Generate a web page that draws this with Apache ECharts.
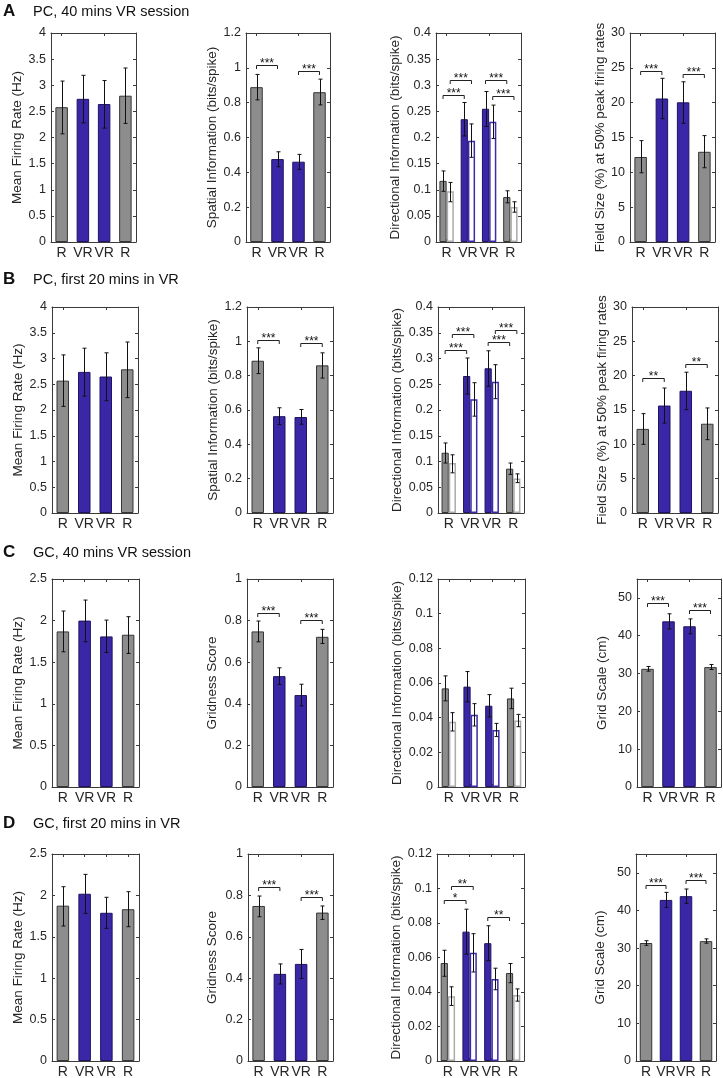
<!DOCTYPE html>
<html><head><meta charset="utf-8">
<script src="https://cdn.jsdelivr.net/npm/echarts@6/dist/echarts.min.js"></script>
<style>html,body{margin:0;padding:0;background:#fff}#c{width:723px;height:1078px}</style>
</head><body><div id="c"></div><script>
// ---------- DATA ----------
const categories = ['R', 'VR', 'VR', 'R'];
const catIsVR = [false, true, true, false];

const rowTitles = ['PC, 40 mins VR session', 'PC, first 20 mins in VR', 'GC, 40 mins VR session', 'GC, first 20 mins in VR'];
const rowLetters = ['A', 'B', 'C', 'D'];

// Row A: PC, 40 mins
const A_rate_mean = [2.58, 2.74, 2.64, 2.80];
const A_rate_lo   = [2.07, 2.28, 2.18, 2.27];
const A_rate_hi   = [3.08, 3.19, 3.09, 3.33];
const A_si_mean = [0.889, 0.476, 0.461, 0.860];
const A_si_lo   = [0.816, 0.432, 0.417, 0.787];
const A_si_hi   = [0.962, 0.518, 0.503, 0.935];
const A_di_f_mean = [0.117, 0.235, 0.255, 0.086];
const A_di_f_lo   = [0.097, 0.203, 0.221, 0.075];
const A_di_f_hi   = [0.136, 0.267, 0.288, 0.098];
const A_di_h_mean = [0.097, 0.194, 0.230, 0.067];
const A_di_h_lo   = [0.077, 0.162, 0.198, 0.057];
const A_di_h_hi   = [0.114, 0.226, 0.262, 0.077];
const A_fs_mean = [12.2, 20.6, 20.05, 12.95];
const A_fs_lo   = [9.94, 17.7, 17.04, 10.66];
const A_fs_hi   = [14.55, 23.5, 23.0, 15.27];

// Row B: PC, first 20 mins
const B_rate_mean = [2.57, 2.74, 2.65, 2.79];
const B_rate_lo   = [2.07, 2.27, 2.18, 2.24];
const B_rate_hi   = [3.07, 3.20, 3.11, 3.32];
const B_si_mean = [0.887, 0.564, 0.559, 0.860];
const B_si_lo   = [0.812, 0.515, 0.517, 0.786];
const B_si_hi   = [0.962, 0.613, 0.603, 0.933];
const B_di_f_mean = [0.117, 0.266, 0.281, 0.086];
const B_di_f_lo   = [0.097, 0.231, 0.246, 0.075];
const B_di_f_hi   = [0.136, 0.301, 0.315, 0.097];
const B_di_h_mean = [0.097, 0.221, 0.255, 0.067];
const B_di_h_lo   = [0.078, 0.188, 0.222, 0.059];
const B_di_h_hi   = [0.113, 0.253, 0.288, 0.076];
const B_fs_mean = [12.25, 15.65, 17.8, 13.0];
const B_fs_lo   = [10.0, 13.1, 15.05, 10.68];
const B_fs_hi   = [14.47, 18.2, 20.5, 15.3];

// Row C: GC, 40 mins
const C_rate_mean = [1.87, 2.0, 1.81, 1.83];
const C_rate_lo   = [1.625, 1.746, 1.617, 1.605];
const C_rate_hi   = [2.115, 2.247, 2.006, 2.047];
const C_gs_mean = [0.748, 0.533, 0.442, 0.722];
const C_gs_lo   = [0.698, 0.493, 0.390, 0.690];
const C_gs_hi   = [0.798, 0.573, 0.494, 0.758];
const C_di_f_mean = [0.0569, 0.0579, 0.0469, 0.0511];
const C_di_f_lo   = [0.0497, 0.0491, 0.0404, 0.0452];
const C_di_f_hi   = [0.0641, 0.0666, 0.0533, 0.0570];
const C_di_h_mean = [0.0376, 0.0417, 0.0329, 0.0384];
const C_di_h_lo   = [0.0323, 0.0352, 0.0291, 0.0348];
const C_di_h_hi   = [0.0429, 0.0481, 0.0367, 0.0419];
const C_gsc_mean = [31.25, 43.8, 42.5, 31.7];
const C_gsc_lo   = [30.63, 41.8, 40.5, 31.07];
const C_gsc_hi   = [31.87, 45.8, 44.45, 32.4];

// Row D: GC, first 20 mins
const D_rate_mean = [1.876, 2.02, 1.79, 1.833];
const D_rate_lo   = [1.63, 1.783, 1.602, 1.622];
const D_rate_hi   = [2.105, 2.254, 1.977, 2.045];
const D_gs_mean = [0.749, 0.421, 0.469, 0.717];
const D_gs_lo   = [0.697, 0.372, 0.399, 0.684];
const D_gs_hi   = [0.797, 0.469, 0.539, 0.749];
const D_di_f_mean = [0.0568, 0.075, 0.0683, 0.051];
const D_di_f_lo   = [0.0491, 0.062, 0.0582, 0.0454];
const D_di_f_hi   = [0.0642, 0.088, 0.0784, 0.0565];
const D_di_h_mean = [0.0376, 0.0627, 0.0476, 0.0382];
const D_di_h_lo   = [0.0322, 0.0516, 0.0413, 0.0347];
const D_di_h_hi   = [0.043, 0.0738, 0.0538, 0.0418];
const D_gsc_mean = [31.35, 42.8, 43.8, 31.85];
const D_gsc_lo   = [30.73, 40.8, 41.9, 31.3];
const D_gsc_hi   = [31.97, 44.8, 45.7, 32.45];

// Significance brackets: [fromCat, toCat, height, fromSide, toSide, stars]  (side: -1 filled, +1 hollow, 0 single)
const A_si_sig = [[0, 1, 1.014, 0, 0, '***'], [2, 3, 0.983, 0, 0, '***']];
const A_di_sig = [[0, 1, 0.282, -1, -1, '***'], [0, 1, 0.310, 1, 1, '***'], [2, 3, 0.310, -1, -1, '***'], [2, 3, 0.280, 1, 1, '***']];
const A_fs_sig = [[0, 1, 24.6, 0, 0, '***'], [2, 3, 24.1, 0, 0, '***']];
const B_si_sig = [[0, 1, 1.010, 0, 0, '***'], [2, 3, 0.990, 0, 0, '***']];
const B_di_sig = [[0, 1, 0.316, -1, -1, '***'], [0, 1, 0.347, 1, 1, '***'], [2, 3, 0.332, -1, -1, '***'], [2, 3, 0.355, 1, 1, '***']];
const B_fs_sig = [[0, 1, 19.66, 0, 0, '**'], [2, 3, 21.7, 0, 0, '**']];
const C_gs_sig = [[0, 1, 0.838, 0, 0, '***'], [2, 3, 0.801, 0, 0, '***']];
const C_gsc_sig = [[0, 1, 48.6, 0, 0, '***'], [2, 3, 46.9, 0, 0, '***']];
const D_gs_sig = [[0, 1, 0.839, 0, 0, '***'], [2, 3, 0.794, 0, 0, '***']];
const D_di_sig = [[0, 1, 0.0935, -1, -1, '*'], [0, 1, 0.1017, 1, 1, '**'], [2, 3, 0.0833, -1, -1, '**']];
const D_gsc_sig = [[0, 1, 46.7, 0, 0, '***'], [2, 3, 47.96, 0, 0, '***']];

const yNames = {
  rate: 'Mean Firing Rate (Hz)', si: 'Spatial Information (bits/spike)', di: 'Directional Information (bits/spike)',
  fs: 'Field Size (%) at 50% peak firing rates', gs: 'Gridness Score', gsc: 'Grid Scale (cm)'
};

// ---------- STYLE / LAYOUT ----------
const FF = '"Liberation Sans", Arial, Helvetica, sans-serif';
const AX = '#3a3a3a', TX = '#262626';
const GRAY_FILL = '#8d8d8d', GRAY_EDGE = '#363636';
const BLUE_FILL = '#3a27a8', BLUE_EDGE = '#1e1460';
const H_GRAY = '#ababab', H_BLUE = '#3d2bab';

const rowTop = [33, 307, 579, 854];
const rowH = [209, 206, 208, 207];
const colLeft = [[51, 246, 436, 630], [52, 247, 438, 632], [52, 247, 438, 637], [52, 248, 437, 636]];
const colW = [[85, 84, 85, 85], [86, 86, 86, 86], [87, 86, 87, 84], [87, 85, 87, 80]];
const nameGaps = [[26, 26, 29, 21], [27, 27, 31, 23], [27, 28, 31, 28], [27, 29, 30, 29]];
const titleTop = [3, 271, 544, 815];

const panels = [
  {kind: 'single', yName: yNames.rate, max: 4, interval: 0.5, mean: A_rate_mean, lo: A_rate_lo, hi: A_rate_hi, sig: []},
  {kind: 'single', yName: yNames.si, max: 1.2, interval: 0.2, mean: A_si_mean, lo: A_si_lo, hi: A_si_hi, sig: A_si_sig},
  {kind: 'pair', yName: yNames.di, max: 0.4, interval: 0.05, fm: A_di_f_mean, fl: A_di_f_lo, fh: A_di_f_hi, hm: A_di_h_mean, hl: A_di_h_lo, hh: A_di_h_hi, sig: A_di_sig},
  {kind: 'single', yName: yNames.fs, max: 30, interval: 5, mean: A_fs_mean, lo: A_fs_lo, hi: A_fs_hi, sig: A_fs_sig},

  {kind: 'single', yName: yNames.rate, max: 4, interval: 0.5, mean: B_rate_mean, lo: B_rate_lo, hi: B_rate_hi, sig: []},
  {kind: 'single', yName: yNames.si, max: 1.2, interval: 0.2, mean: B_si_mean, lo: B_si_lo, hi: B_si_hi, sig: B_si_sig},
  {kind: 'pair', yName: yNames.di, max: 0.4, interval: 0.05, fm: B_di_f_mean, fl: B_di_f_lo, fh: B_di_f_hi, hm: B_di_h_mean, hl: B_di_h_lo, hh: B_di_h_hi, sig: B_di_sig},
  {kind: 'single', yName: yNames.fs, max: 30, interval: 5, mean: B_fs_mean, lo: B_fs_lo, hi: B_fs_hi, sig: B_fs_sig},

  {kind: 'single', yName: yNames.rate, max: 2.5, interval: 0.5, mean: C_rate_mean, lo: C_rate_lo, hi: C_rate_hi, sig: []},
  {kind: 'single', yName: yNames.gs, max: 1, interval: 0.2, mean: C_gs_mean, lo: C_gs_lo, hi: C_gs_hi, sig: C_gs_sig},
  {kind: 'pair', yName: yNames.di, max: 0.12, interval: 0.02, fm: C_di_f_mean, fl: C_di_f_lo, fh: C_di_f_hi, hm: C_di_h_mean, hl: C_di_h_lo, hh: C_di_h_hi, sig: []},
  {kind: 'single', yName: yNames.gsc, max: 55, interval: 10, hideMax: true, mean: C_gsc_mean, lo: C_gsc_lo, hi: C_gsc_hi, sig: C_gsc_sig},

  {kind: 'single', yName: yNames.rate, max: 2.5, interval: 0.5, mean: D_rate_mean, lo: D_rate_lo, hi: D_rate_hi, sig: []},
  {kind: 'single', yName: yNames.gs, max: 1, interval: 0.2, mean: D_gs_mean, lo: D_gs_lo, hi: D_gs_hi, sig: D_gs_sig},
  {kind: 'pair', yName: yNames.di, max: 0.12, interval: 0.02, fm: D_di_f_mean, fl: D_di_f_lo, fh: D_di_f_hi, hm: D_di_h_mean, hl: D_di_h_lo, hh: D_di_h_hi, sig: D_di_sig},
  {kind: 'single', yName: yNames.gsc, max: 55, interval: 10, hideMax: true, mean: D_gsc_mean, lo: D_gsc_lo, hi: D_gsc_hi, sig: D_gsc_sig}
];

const SINGLE_BW = 12.5;
const PAIR_BW = 7.2;

const grids = [], xAxes = [], yAxes = [], series = [], titles = [];

rowLetters.forEach((L, r) => {
  titles.push({text: L, left: 3, top: titleTop[r], padding: 0, textStyle: {fontSize: 17, fontWeight: 'bold', color: '#111', fontFamily: FF}});
  titles.push({text: rowTitles[r], left: 33, top: titleTop[r] + 1, padding: 0, textStyle: {fontSize: 14.5, fontWeight: 'normal', color: '#111', fontFamily: FF}});
});

function errSeries(gi, lo, hi, offset) {
  return {
    type: 'custom', xAxisIndex: gi * 2, yAxisIndex: gi * 2, z: 10, silent: true,
    data: lo.map((l, i) => [i, l, hi[i]]),
    renderItem: (params, api) => {
      const i = api.value(0);
      const p1 = api.coord([i, api.value(1)]);
      const p2 = api.coord([i, api.value(2)]);
      const x = Math.round(p1[0] + offset) + 0.5;
      const cw = 2;
      const st = {stroke: '#111', lineWidth: 1};
      return {type: 'group', children: [
        {type: 'line', shape: {x1: x, y1: p1[1], x2: x, y2: p2[1]}, style: st},
        {type: 'line', shape: {x1: x - cw, y1: p1[1], x2: x + cw, y2: p1[1]}, style: st},
        {type: 'line', shape: {x1: x - cw, y1: p2[1], x2: x + cw, y2: p2[1]}, style: st}
      ]};
    }
  };
}

function sigSeries(gi, sig, off) {
  return {
    type: 'custom', xAxisIndex: gi * 2, yAxisIndex: gi * 2, z: 12, silent: true,
    data: sig.map(s => [s[0], s[2]]),
    renderItem: (params, api) => {
      const s = sig[params.dataIndex];
      const pa = api.coord([s[0], s[2]]);
      const pb = api.coord([s[1], s[2]]);
      const xa = pa[0] + s[3] * off, xb = pb[0] + s[4] * off;
      const y = Math.round(pa[1]) + 0.5;
      return {type: 'group', children: [
        {type: 'polyline', shape: {points: [[xa, y + 3.5], [xa, y], [xb, y], [xb, y + 3.5]]}, style: {stroke: '#222', lineWidth: 1, fill: null}},
        {type: 'text', style: {text: s[5], x: (xa + xb) / 2, y: y - 1.5, textAlign: 'center', textVerticalAlign: 'middle', align: 'center', verticalAlign: 'middle', fontSize: 12, fontFamily: FF, fill: '#111'}}
      ]};
    }
  };
}

panels.forEach((p, gi) => {
  const r = Math.floor(gi / 4), c = gi % 4;
  grids.push({left: colLeft[r][c], top: rowTop[r], width: colW[r][c], height: rowH[r], outerBoundsMode: 'none', containLabel: false});
  const xTick = {show: true, inside: true, alignWithLabel: true, length: 3, lineStyle: {color: AX, width: 1}};
  const line = {show: true, onZero: false, lineStyle: {color: AX, width: 1}};
  xAxes.push({gridIndex: gi, type: 'category', data: categories, position: 'bottom', axisLine: line, axisTick: xTick,
    axisLabel: {fontSize: 14, margin: 4, color: TX, interval: 0, fontFamily: FF}, splitLine: {show: false}});
  xAxes.push({gridIndex: gi, type: 'category', data: categories, position: 'top', axisLine: line, axisTick: xTick,
    axisLabel: {show: false}, splitLine: {show: false}});
  const yTick = {show: true, inside: true, length: 3, lineStyle: {color: AX, width: 1}};
  yAxes.push({gridIndex: gi, type: 'value', min: 0, max: p.max, interval: p.interval, position: 'left',
    name: p.yName, nameLocation: 'middle', nameGap: nameGaps[r][c],
    nameTextStyle: {fontSize: 13.5, color: TX, fontFamily: FF},
    axisLine: line, axisTick: yTick,
    axisLabel: {fontSize: 12.5, margin: 5, color: TX, fontFamily: FF, showMaxLabel: !p.hideMax,
      formatter: v => (p.hideMax && v > p.max - p.interval / 2) ? '' : String(+v.toFixed(4))},
    splitLine: {show: false}});
  yAxes.push({gridIndex: gi, type: 'value', min: 0, max: p.max, interval: p.interval, position: 'right',
    axisLine: line, axisTick: yTick, axisLabel: {show: false}, splitLine: {show: false}});

  if (p.kind === 'single') {
    series.push({
      type: 'bar', xAxisIndex: gi * 2, yAxisIndex: gi * 2, barWidth: SINGLE_BW, silent: true,
      data: p.mean.map((v, i) => ({value: v, itemStyle: {
        color: catIsVR[i] ? BLUE_FILL : GRAY_FILL, borderColor: catIsVR[i] ? BLUE_EDGE : GRAY_EDGE, borderWidth: 1}}))
    });
    series.push(errSeries(gi, p.lo, p.hi, 0));
    if (p.sig.length) series.push(sigSeries(gi, p.sig, 0));
  } else {
    series.push({
      type: 'bar', xAxisIndex: gi * 2, yAxisIndex: gi * 2, barWidth: PAIR_BW, barGap: '0%', silent: true,
      data: p.fm.map((v, i) => ({value: v, itemStyle: {
        color: catIsVR[i] ? BLUE_FILL : GRAY_FILL, borderColor: catIsVR[i] ? BLUE_EDGE : GRAY_EDGE, borderWidth: 1}}))
    });
    series.push({
      type: 'bar', xAxisIndex: gi * 2, yAxisIndex: gi * 2, barWidth: PAIR_BW, barGap: '0%', silent: true,
      data: p.hm.map((v, i) => ({value: v, itemStyle: {
        color: '#ffffff', borderColor: catIsVR[i] ? H_BLUE : H_GRAY, borderWidth: 1.5}}))
    });
    series.push(errSeries(gi, p.fl, p.fh, -PAIR_BW / 2));
    series.push(errSeries(gi, p.hl, p.hh, PAIR_BW / 2));
    if (p.sig.length) series.push(sigSeries(gi, p.sig, PAIR_BW / 2));
  }
});

const chart = echarts.init(document.getElementById('c'), null, {renderer: 'canvas'});
chart.setOption({
  animation: false,
  backgroundColor: '#ffffff',
  textStyle: {fontFamily: FF},
  title: titles,
  grid: grids,
  xAxis: xAxes,
  yAxis: yAxes,
  series: series
});
</script></body></html>
